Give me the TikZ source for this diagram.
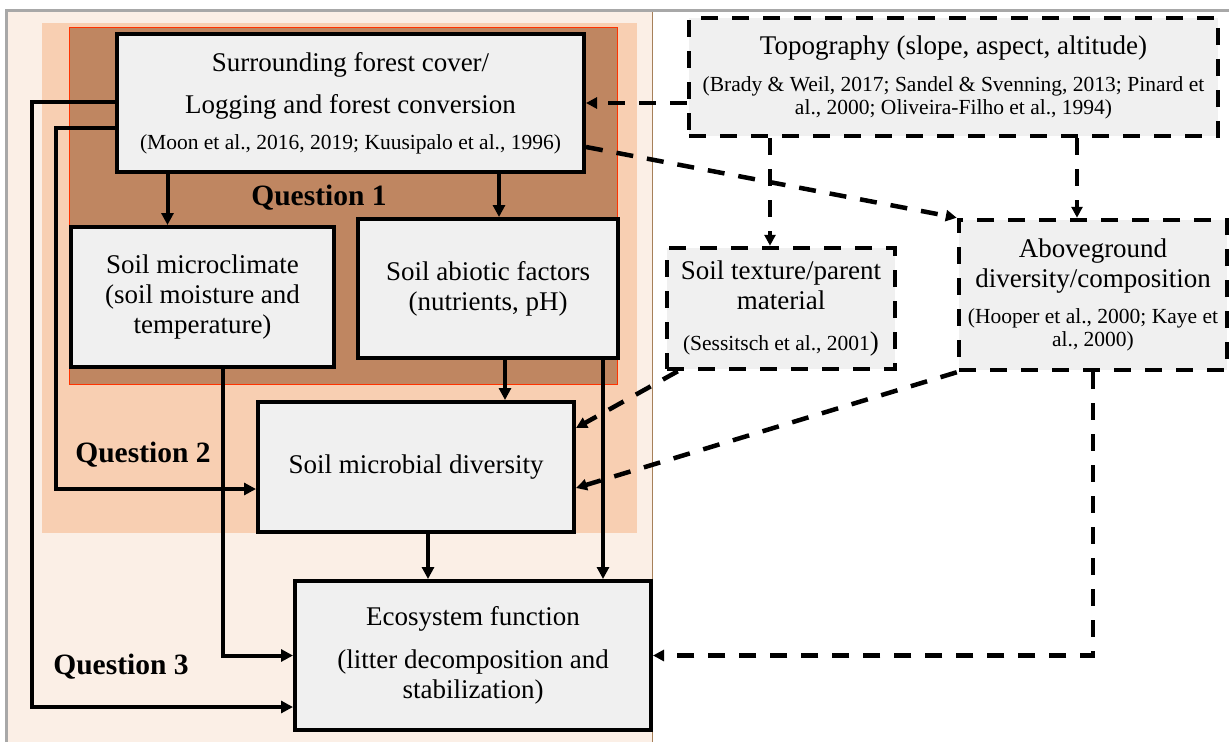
\documentclass[tikz,border=0pt]{standalone}
\usepackage{fontspec}
\setmainfont{Liberation Serif}
\usetikzlibrary{arrows.meta}
\definecolor{lightpeach}{HTML}{FBEFE6}
\definecolor{midpeach}{HTML}{F8CFB2}
\definecolor{brownbg}{HTML}{BF8661}
\definecolor{boxgray}{HTML}{F0F0F0}
\definecolor{framegray}{HTML}{A8A8A8}
\newcommand\mainf{\fontsize{27}{30}\selectfont}
\newcommand\citef{\fontsize{21.5}{23}\selectfont}
\newcommand\qf{\fontsize{29.5}{30}\selectfont\bfseries}
\tikzset{
  box/.style={draw, line width=4pt, fill=boxgray, inner sep=0pt, align=center, font=\mainf},
  dbox/.style={box, line width=4.5pt, dash pattern=on 17pt off 14pt},
  arr/.style={line width=4pt, -{Triangle[length=12pt,width=12pt]}},
  darr/.style={line width=4.5pt, dash pattern=on 17pt off 14pt, -{Triangle[length=11pt,width=11pt]}},
  qlabel/.style={font=\qf, inner sep=0pt},
}
\begin{document}
\begin{tikzpicture}[x=1pt,y=-1pt]
\useasboundingbox (0,0) rectangle (1229,742);
% backgrounds
\fill[lightpeach] (8,12) rectangle (652,742);
\fill[midpeach] (42,23) rectangle (637,533);
\fill[brownbg] (69,27) rectangle (617,384);
\draw[red!60!orange, line width=0.8pt] (69,27) rectangle (617,384);
\draw[brown!60!gray, line width=1pt] (652,12) -- (652,742);
\draw[framegray, line width=3pt] (6,742) -- (6,10) -- (1229,10);

% boxes
\node[box, minimum width=467pt, minimum height=138pt] (top) at (350.5,103)
  {Surrounding forest cover/\\[12pt]Logging and forest conversion\\[6pt]{\citef (Moon et al., 2016, 2019; Kuusipalo et al., 1996)}};
\node[box, minimum width=263pt, minimum height=140pt] (micro) at (202.5,297)
  {Soil microclimate\\(soil moisture and\\temperature)};
\node[box, minimum width=260pt, minimum height=139pt] (abiotic) at (488,288.5)
  {Soil abiotic factors\\(nutrients, pH)};
\node[box, minimum width=316pt, minimum height=130pt] (microbial) at (416,467)
  {Soil microbial diversity};
\node[box, minimum width=356pt, minimum height=149pt] (eco) at (473,655.5)
  {Ecosystem function\\[13pt](litter decomposition and\\stabilization)};
\node[dbox, minimum width=529pt, minimum height=118pt] (topo) at (953.5,77)
  {Topography (slope, aspect, altitude)\\[7pt]{\citef (Brady \& Weil, 2017; Sandel \& Svenning, 2013; Pinard et}\\[-7pt]{\citef al., 2000; Oliveira-Filho et al., 1994)}};
\node[dbox, minimum width=228pt, minimum height=121pt] (texture) at (781,308.5)
  {Soil texture/parent\\material\\[11pt]{\citef (Sessitsch et al., 2001})};
\node[dbox, minimum width=268pt, minimum height=150pt] (above) at (1093,295)
  {Aboveground\\diversity/composition\\[6pt]{\citef (Hooper et al., 2000; Kaye et}\\[-7pt]{\citef al., 2000)}};

% question labels
\node[qlabel] (q1) at (319,198) {Question 1};
\node[qlabel] (q2) at (143,455) {Question 2};
\node[qlabel] (q3) at (121,667) {Question 3};

% solid connectors
\draw[arr] ([xshift=-183pt]top.south) -- ([xshift=-183pt]top.south |- micro.north);
\draw[arr] ([xshift=148.5pt]top.south) -- ([xshift=148.5pt]top.south |- abiotic.north);
\draw[arr] ([yshift=1pt]top.west) -- ++(-83pt,0) |- ([yshift=-51.5pt]eco.west);
\draw[arr] ([yshift=-25pt]top.west) -- ++(-59pt,0) |- ([yshift=-22pt]microbial.west);
\draw[arr] ([xshift=20.5pt]micro.south) |- (eco.west);
\draw[arr] ([xshift=17pt]abiotic.south) -- ([xshift=17pt]abiotic.south |- microbial.north);
\draw[arr] ([xshift=115pt]abiotic.south) -- ([xshift=115pt]abiotic.south |- eco.north);
\draw[arr] ([xshift=12pt]microbial.south) -- ([xshift=12pt]microbial.south |- eco.north);

% dashed connectors
\draw[darr] (topo.west |- top.east) -- (top.east);
\draw[darr] ([yshift=-44pt]top.east) -- (above.north west);
\draw[darr] ([xshift=-11pt]texture.north |- topo.south) -- ([xshift=-11pt]texture.north);
\draw[darr] ([xshift=-16pt]above.north |- topo.south) -- ([xshift=-16pt]above.north);
\draw[darr] ([xshift=13pt]texture.south west) -- ([yshift=39pt]microbial.east);
\draw[darr] (above.south west) -- ([yshift=-21pt]microbial.east);
\draw[darr] (above.south) |- (eco.east);
\end{tikzpicture}
\end{document}
